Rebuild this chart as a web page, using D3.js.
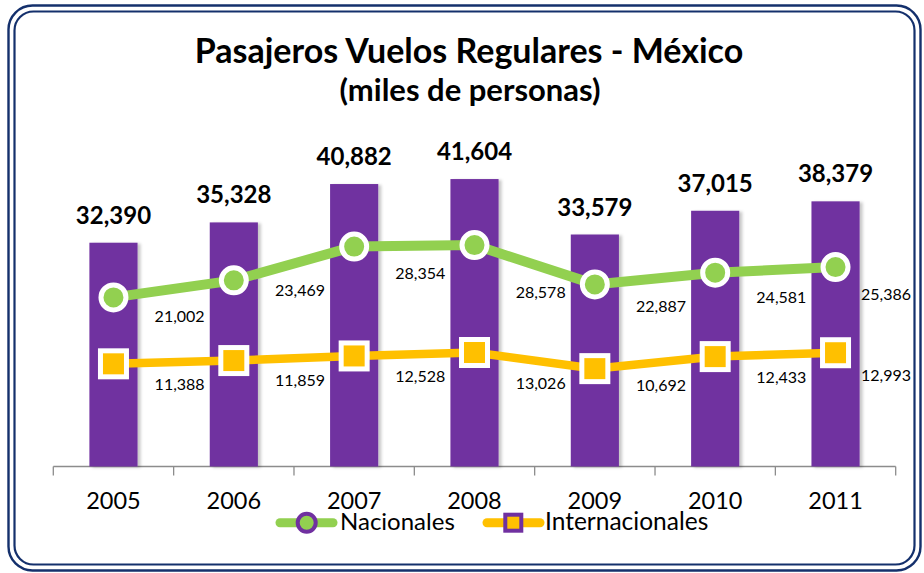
<html>

<style>
    body {
      margin: 0;
      background: #ffffff;
      font-family: 'Lato', 'Open Sans', sans-serif;
    }
    #chart-container {
      width: 924px;
      height: 573px;
    }
</style>

<head>
  <meta charset="utf-8">
  <title>Pasajeros Vuelos Regulares - México</title>
  <script src="https://d3js.org/d3.v7.min.js"></script>
</head>

<body>

  <div id="chart-container"></div>

  <script type="text/javascript">

    /*--- Chart Data ---*/

    var years = ["2005", "2006", "2007", "2008", "2009", "2010", "2011"],
      totales = [32390, 35328, 40882, 41604, 33579, 37015, 38379],
      nacionales = [21002, 23469, 28354, 28578, 22887, 24581, 25386],
      internacionales = [11388, 11859, 12528, 13026, 10692, 12433, 12993],
      titleText = "Pasajeros Vuelos Regulares - México",
      subtitleText = "(miles de personas)",
      legendNames = ["Nacionales", "Internacionales"];

    /*--- Page Variables ---*/

    var width = 924,
      height = 573,
      purple = "#7030A0",
      green = "#92D050",
      yellow = "#FFC000",
      navy = "#14306C",
      fmt = d3.format(",");

    var svg = d3.select("#chart-container")
        .append("svg")
        .attr("width", width)
        .attr("height", height);

    var defs = svg.append("defs");
    defs.append("filter")
        .attr("id", "bar-shadow")
        .attr("x", "-20%").attr("y", "-5%")
        .attr("width", "150%").attr("height", "115%")
      .append("feDropShadow")
        .attr("dx", 3).attr("dy", 1)
        .attr("stdDeviation", 1.6)
        .attr("flood-color", "#000")
        .attr("flood-opacity", 0.22);

    /*--- Frame ---*/

    svg.append("rect")
      .attr("x", 8.5).attr("y", 5.5)
      .attr("width", 912).attr("height", 565)
      .attr("rx", 24)
      .attr("fill", "none")
      .attr("stroke", navy)
      .attr("stroke-width", 2.4);

    svg.append("rect")
      .attr("x", 14.5).attr("y", 11.5)
      .attr("width", 900).attr("height", 553)
      .attr("rx", 19)
      .attr("fill", "none")
      .attr("stroke", navy)
      .attr("stroke-width", 2.2);

    /*--- Titles ---*/

    svg.append("text")
      .attr("x", 469).attr("y", 63)
      .attr("text-anchor", "middle")
      .attr("font-size", 34)
      .attr("font-weight", "bold")
      .text(titleText);

    svg.append("text")
      .attr("x", 470).attr("y", 101)
      .attr("text-anchor", "middle")
      .attr("font-size", 31)
      .attr("font-weight", "bold")
      .text(subtitleText);

    /*--- Scales ---*/

    var x = d3.scaleBand()
        .domain(years)
        .range([53.3, 895.7])
        .paddingInner(0.6)
        .paddingOuter(0.3);

    // bars on the primary axis, lines on a hidden secondary axis
    var yBar = d3.scaleLinear().domain([0, 45000]).range([466.5, 155.6]),
      yLine = d3.scaleLinear().domain([0, 45000]).range([442.5, 131.6]);

    function cx(d) { return x(d) + x.bandwidth() / 2; }

    /*--- Axis ---*/

    var axisG = svg.append("g")
        .attr("transform", "translate(0," + yBar(0) + ")");

    axisG.append("line")
      .attr("x1", x.range()[0]).attr("x2", x.range()[1])
      .attr("stroke", "#8c8c8c").attr("stroke-width", 1.3);

    var edges = years.map(function (d) { return x(d) - x.step() * x.paddingInner() / 2; })
        .concat([x.range()[1]]);

    axisG.selectAll(".tick-mark")
      .data(edges)
      .enter()
      .append("line")
      .attr("class", "tick-mark")
      .attr("x1", function (d) { return d; })
      .attr("x2", function (d) { return d; })
      .attr("y1", 0).attr("y2", 9)
      .attr("stroke", "#8c8c8c").attr("stroke-width", 1.3);

    axisG.selectAll(".year")
      .data(years)
      .enter()
      .append("text")
      .attr("class", "year")
      .attr("x", cx)
      .attr("y", 42.5)
      .attr("text-anchor", "middle")
      .attr("font-size", 23.5)
      .text(function (d) { return d; });

    /*--- Bars ---*/

    svg.selectAll(".bar")
      .data(years)
      .enter()
      .append("rect")
      .attr("class", "bar")
      .attr("x", function (d) { return x(d); })
      .attr("width", x.bandwidth())
      .attr("y", function (d, i) { return yBar(totales[i]); })
      .attr("height", function (d, i) { return yBar(0) - yBar(totales[i]); })
      .attr("fill", purple)
      .attr("filter", "url(#bar-shadow)");

    svg.selectAll(".total-label")
      .data(years)
      .enter()
      .append("text")
      .attr("class", "total-label")
      .attr("x", cx)
      .attr("y", function (d, i) { return yBar(totales[i]) - 19; })
      .attr("text-anchor", "middle")
      .attr("font-size", 24)
      .attr("font-weight", "bold")
      .text(function (d, i) { return fmt(totales[i]); });

    /*--- Lines ---*/

    var series = [
      {values: nacionales, color: green, width: 10, marker: "circle", dy: 33},
      {values: internacionales, color: yellow, width: 8.5, marker: "square", dy: 28}
    ];

    var line = d3.line()
        .x(function (d) { return cx(d.year); })
        .y(function (d) { return yLine(d.value); });

    series.forEach(function (s) {
      var pts = years.map(function (y, i) { return {year: y, value: s.values[i], i: i}; });

      svg.append("path")
        .datum(pts)
        .attr("d", line)
        .attr("fill", "none")
        .attr("stroke", s.color)
        .attr("stroke-width", s.width);

      if (s.marker === "circle") {
        svg.selectAll(".m-circle")
          .data(pts)
          .enter()
          .append("circle")
          .attr("class", "m-circle")
          .attr("cx", function (d) { return cx(d.year); })
          .attr("cy", function (d) { return yLine(d.value); })
          .attr("r", 12.5)
          .attr("fill", s.color)
          .attr("stroke", "#fff")
          .attr("stroke-width", 5);
      } else {
        svg.selectAll(".m-square")
          .data(pts)
          .enter()
          .append("rect")
          .attr("class", "m-square")
          .attr("x", function (d) { return cx(d.year) - 13; })
          .attr("y", function (d) { return yLine(d.value) - 13; })
          .attr("width", 26).attr("height", 26)
          .attr("fill", s.color)
          .attr("stroke", "#fff")
          .attr("stroke-width", 5);
      }

      // value labels sit below the segment, near the band edge
      svg.selectAll(null)
        .data(pts)
        .enter()
        .append("text")
        .attr("x", function (d) {
          return Math.min(cx(d.year) + x.step() / 2 + 6, 886);
        })
        .attr("y", function (d, i) {
          var yA = yLine(d.value),
            yB = i < pts.length - 1 ? yLine(pts[i + 1].value) : yA;
          return (yA + yB) / 2 + s.dy;
        })
        .attr("text-anchor", "middle")
        .attr("font-size", 16)
        .text(function (d) { return fmt(d.value); });
    });

    /*--- Legend ---*/

    var legend = svg.append("g");

    legend.append("line")
      .attr("x1", 280).attr("x2", 333)
      .attr("y1", 522.7).attr("y2", 522.7)
      .attr("stroke", green).attr("stroke-width", 9)
      .attr("stroke-linecap", "round");
    legend.append("circle")
      .attr("cx", 306.7).attr("cy", 522.7).attr("r", 9)
      .attr("fill", green)
      .attr("stroke", purple).attr("stroke-width", 4);
    legend.append("text")
      .attr("x", 340).attr("y", 530)
      .attr("font-size", 24)
      .text(legendNames[0]);

    legend.append("line")
      .attr("x1", 487).attr("x2", 540)
      .attr("y1", 522.7).attr("y2", 522.7)
      .attr("stroke", yellow).attr("stroke-width", 9)
      .attr("stroke-linecap", "round");
    legend.append("rect")
      .attr("x", 513.3 - 8).attr("y", 522.7 - 8)
      .attr("width", 16).attr("height", 16)
      .attr("fill", yellow)
      .attr("stroke", purple).attr("stroke-width", 4);
    legend.append("text")
      .attr("x", 545).attr("y", 530)
      .attr("font-size", 24.5)
      .text(legendNames[1]);

  </script>
</body>
</html>
